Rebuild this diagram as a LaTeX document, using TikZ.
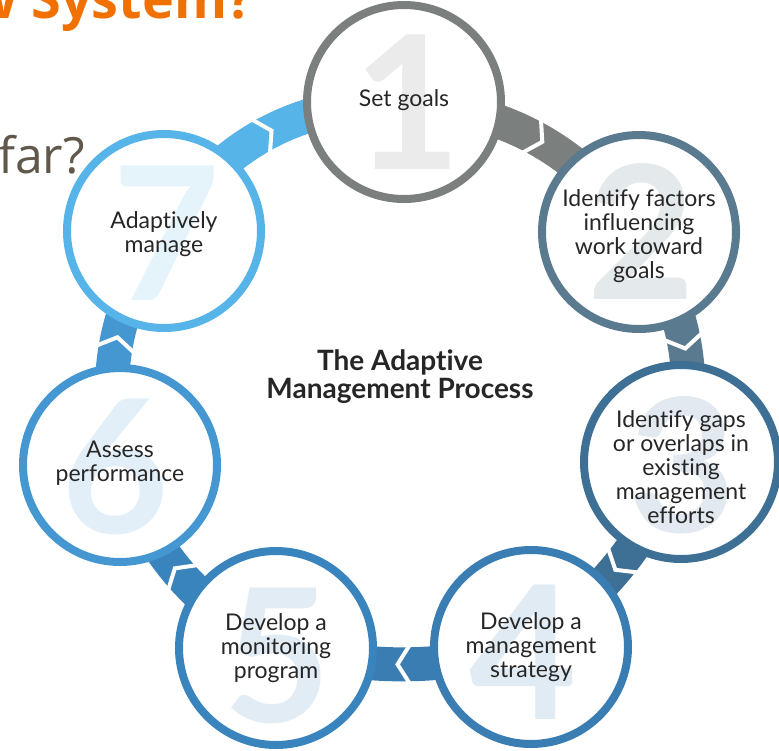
\documentclass[tikz,border=0pt]{standalone}
\usepackage{fontspec}
\setmainfont{Lato}[Ligatures=NoCommon]
\newfontfamily\opensans{Open Sans}
\usetikzlibrary{backgrounds,decorations.markings}

% ring colours, one per step
\definecolor{ca}{HTML}{7B7F7D}
\definecolor{cb}{HTML}{5A7A8F}
\definecolor{cc}{HTML}{3E6F95}
\definecolor{cd}{HTML}{3A7DB2}
\definecolor{ce}{HTML}{3A84BE}
\definecolor{cf}{HTML}{4597D2}
\definecolor{cg}{HTML}{56B4E8}
% pale watermark digits
\definecolor{da}{HTML}{EBEBEB}
\definecolor{db}{HTML}{E4E9EC}
\definecolor{dc}{HTML}{E2E9F0}
\definecolor{dd}{HTML}{E1EBF4}
\definecolor{de}{HTML}{E1ECF5}
\definecolor{df}{HTML}{E2EFF8}
\definecolor{dg}{HTML}{E5F4FB}
% text colours
\definecolor{txt}{HTML}{262626}
\definecolor{orng}{HTML}{F07000}
\definecolor{brn}{HTML}{5F584B}

\tikzset{
  stepring/.style={circle, draw=#1, line width=8pt, fill=white,
    minimum size=194pt, inner sep=0pt},
  stepnum/.style={text=#1, inner sep=0pt,
    font=\fontsize{186}{186}\selectfont\bfseries},
  steptext/.style={align=center, text=txt, inner sep=0pt,
    font=\fontsize{23}{24}\selectfont},
  band/.style={draw=#1, line width=34pt, postaction={decorate},
    decoration={markings, mark=at position 0.5 with {
      \draw[white, line width=4pt, line join=miter]
        (-6pt,19pt) -- (6pt,0pt) -- (-6pt,-19pt);}}},
}

\begin{document}
\begin{tikzpicture}[x=1pt, y=-1pt]
\useasboundingbox (0,0) rectangle (779,750);
\clip (0,0) rectangle (779,750);

% slide text around the diagram
\node[anchor=base west, inner sep=0pt, text=orng,
  font=\opensans\fontsize{54}{54}\selectfont\bfseries] (head) at (-29,18) {w System?};
\node[anchor=base west, inner sep=0pt, text=brn,
  font=\opensans\fontsize{50}{50}\selectfont] (sub) at (-2,173) {far?};

% the seven steps
\node[stepring=ca] (s1) at (404,102) {};
\node[stepring=cb] (s2) at (639,232) {};
\node[stepring=cc] (s3) at (681,462) {};
\node[stepring=cd] (s4) at (531,647) {};
\node[stepring=ce] (s5) at (276,648) {};
\node[stepring=cf] (s6) at (120,465) {};
\node[stepring=cg] (s7) at (164,231) {};

\node[stepnum=da] (n1) at ([shift={(3,0)}]s1.center) {1};
\node[stepnum=db] (n2) at ([shift={(2,0)}]s2.center) {2};
\node[stepnum=dc] (n3) at ([shift={(1,3)}]s3.center) {3};
\node[stepnum=dd] (n4) at ([shift={(-8,5)}]s4.center) {4};
\node[stepnum=de] (n5) at ([shift={(1,8)}]s5.center) {5};
\node[stepnum=df] (n6) at ([shift={(-5,2)}]s6.center) {6};
\node[stepnum=dg] (n7) at ([shift={(2,2)}]s7.center) {7};

\node[steptext] (t1) at ([shift={(0,-2)}]s1.center) {Set goals};
\node[steptext] (t2) at ([shift={(0,4)}]s2.center) {Identify factors\\influencing\\work toward\\goals};
\node[steptext] (t3) at ([shift={(0,5)}]s3.center) {Identify gaps\\or overlaps in\\existing\\management\\efforts};
\node[steptext] (t4) at ([shift={(0,0)}]s4.center) {Develop a\\management\\strategy};
\node[steptext] (t5) at ([shift={(0,0)}]s5.center) {Develop a\\monitoring\\program};
\node[steptext] (t6) at ([shift={(0,-2)}]s6.center) {Assess\\performance};
\node[steptext] (t7) at ([shift={(0,3)}]s7.center) {Adaptively\\manage};

% centre title
\node[align=center, text=txt, inner sep=0pt,
  font=\fontsize{28}{28}\selectfont\bfseries] (title) at (400,377)
  {The Adaptive\\Management Process};

% ribbon arrows running clockwise behind the rings
\begin{scope}[on background layer]
\draw[band=ca] (s1.center) to[bend left=24] (s2.center);
\draw[band=cb] (s2.center) to[bend left=21] (s3.center);
\draw[band=cc] (s3.center) to[bend left=14] (s4.center);
\draw[band=cd] (s4.center) to[bend left=13] (s5.center);
\draw[band=ce] (s5.center) to[bend left=21] (s6.center);
\draw[band=cf] (s6.center) to[bend left=22] (s7.center);
\draw[band=cg] (s7.center) to[bend left=28] (s1.center);
\end{scope}
\end{tikzpicture}
\end{document}
